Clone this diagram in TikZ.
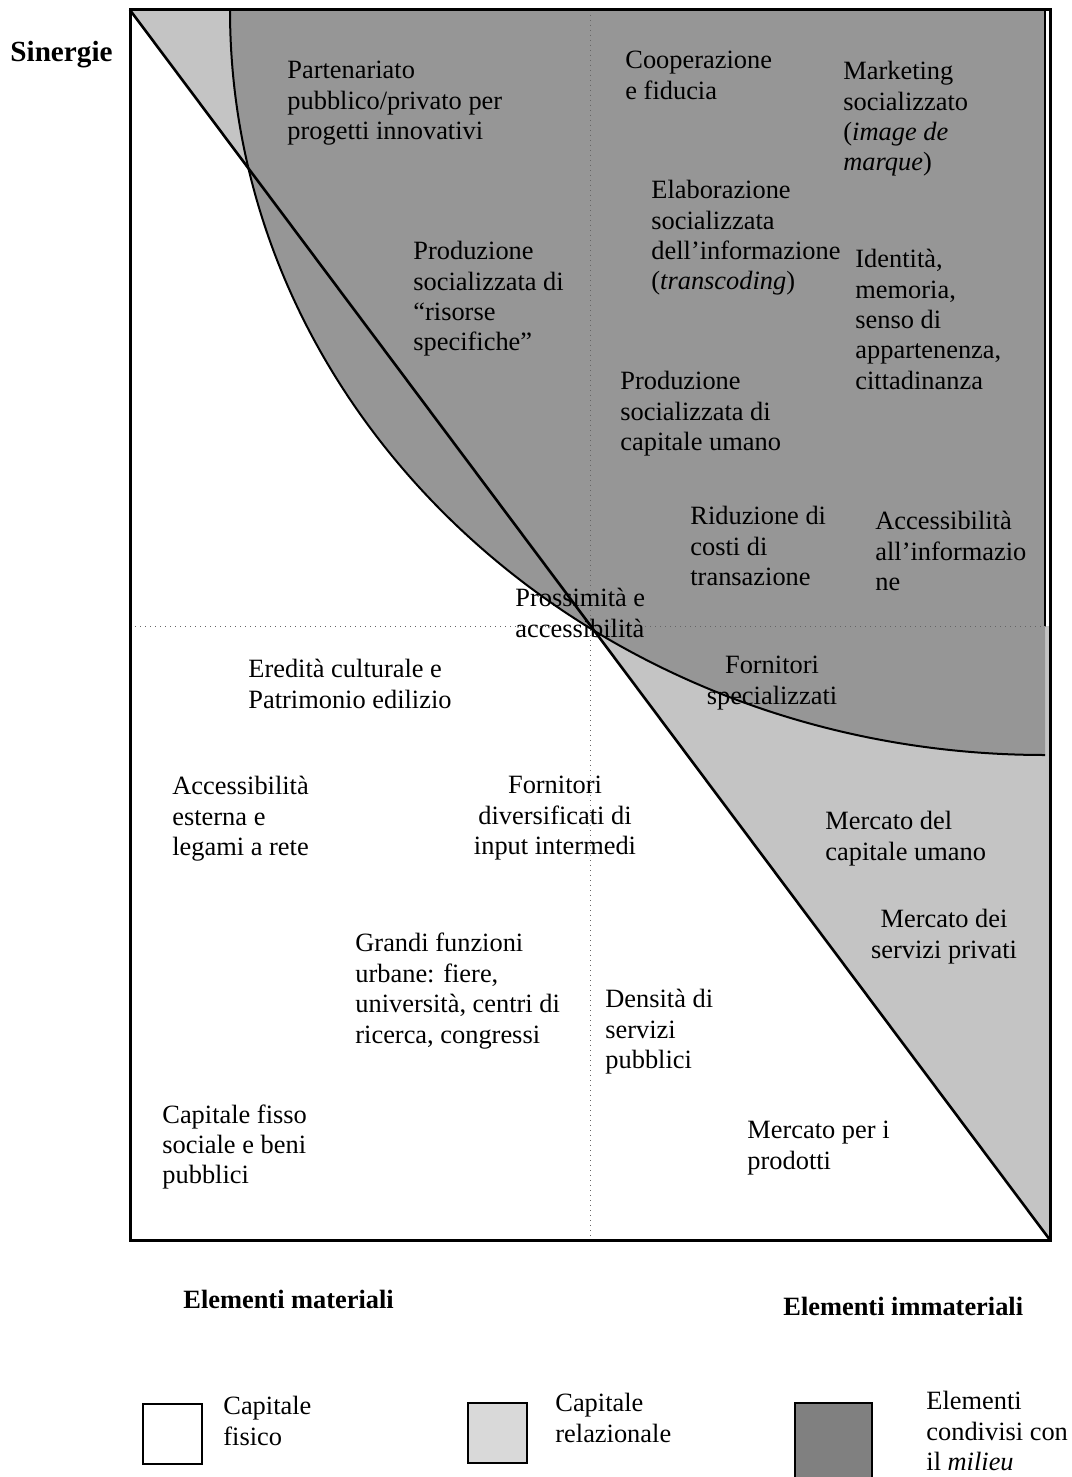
\documentclass[tikz,border=0pt]{standalone}
\usepackage{fontspec}
\setmainfont{Liberation Serif}
\newcommand\lblfont{\fontsize{13.2}{15.2}\selectfont}
\definecolor{relgray}{HTML}{C4C4C4}
\definecolor{milgray}{HTML}{969696}
\definecolor{legrel}{HTML}{D9D9D9}
\definecolor{legmil}{HTML}{808080}
\begin{document}
\begin{tikzpicture}[x=0.5pt,y=-0.5pt,
  lbl/.style={anchor=north west, inner sep=0pt, align=left, font=\lblfont,
    execute at begin node=\strut},
  lblc/.style={lbl, anchor=north, align=center},
  lblb/.style={lbl, font=\lblfont\bfseries},
  frameline/.style={line width=1.5pt},
  diagline/.style={line width=1.3pt},
  curveline/.style={line width=1pt},
  axisline/.style={dotted, line width=0.5pt, black!60},
  legbox/.style={line width=1pt}]
\useasboundingbox (0,0) rectangle (1071,1477);

% corner points of the frame
\coordinate (tl) at (130,10);
\coordinate (tr) at (1050,10);
\coordinate (br) at (1050,1240);
\coordinate (bl) at (130,1240);

% relational capital: triangle above the diagonal
\fill[relgray] (tl) -- (br) -- (tr) -- cycle;
% milieu: quarter ellipse around the top right corner
\fill[milgray] (230,10) .. controls (230,421.5) and (594.9,755) .. (1045,755)
  -- (1045,10) -- cycle;
\fill[white] (1045.5,10) rectangle (1050,626);
\draw[curveline] (230,10) .. controls (230,421.5) and (594.9,755) .. (1045,755);
\draw[line width=0.6pt] (1045,10) -- (1045,626);

% axes
\draw[axisline] (590,10) -- (590,1240);
\draw[axisline] (130,626) -- (1050,626);

% diagonal and frame
\draw[diagline] (tl) -- (br);
\draw[frameline] (tl) rectangle (br);

% labels inside the frame
\node[lbl] (partenariato) at (287,61) {Partenariato\\pubblico/privato per\\progetti innovativi};
\node[lbl] (cooperazione) at (625,51) {Cooperazione\\e fiducia};
\node[lbl] (marketing) at (843,61) {Marketing\\socializzato\\(\textit{image de}\\\textit{marque})};
\node[lbl] (elaborazione) at (651,180) {Elaborazione\\socializzata\\dell’informazione\\(\textit{transcoding})};
\node[lbl] (identita) at (855,249) {Identità,\\memoria,\\senso di\\appartenenza,\\cittadinanza};
\node[lbl] (risorse) at (413,241) {Produzione\\socializzata di\\“risorse\\specifiche”};
\node[lbl] (capumano) at (620,371) {Produzione\\socializzata di\\capitale umano};
\node[lbl] (riduzione) at (690,506) {Riduzione di\\costi di\\transazione};
\node[lbl] (accinfo) at (875,511) {Accessibilità\\all’informazio\\ne};
\node[lbl] (prossimita) at (515,588) {Prossimità e\\accessibilità};
\node[lbl] (eredita) at (248,659) {Eredità culturale e\\Patrimonio edilizio};
\node[lblc] (fornspec) at (772,656) {Fornitori\\specializzati};
\node[lbl] (accest) at (172,776) {Accessibilità\\esterna e\\legami a rete};
\node[lblc] (forndiv) at (555,776) {Fornitori\\diversificati di\\input intermedi};
\node[lbl] (mercum) at (825,811) {Mercato del\\capitale umano};
\node[lblc] (mercserv) at (944,909) {Mercato dei\\servizi privati};
\node[lbl] (grandi) at (355,933) {Grandi funzioni\\urbane: fiere,\\università, centri di\\ricerca, congressi};
\node[lbl] (densita) at (605,989) {Densità di\\servizi\\pubblici};
\node[lbl] (capfisso) at (162,1104) {Capitale fisso\\sociale e beni\\pubblici};
\node[lbl] (mercprod) at (747,1121) {Mercato per i\\prodotti};

% axis titles
\node[lblb, font=\fontsize{14.6}{16.8}\selectfont\bfseries] (sinergie) at (10,38) {Sinergie};
\node[lblb] (materiali) at (183,1287) {Elementi materiali};
\node[lblb] (immateriali) at (783,1294) {Elementi immateriali};

% legend
\draw[legbox, fill=white] (143,1404) rectangle (202,1464);
\node[lbl] (legfis) at (223,1396) {Capitale\\fisico};
\draw[legbox, fill=legrel] (468,1403) rectangle (527,1463);
\node[lbl] (legrelt) at (555,1393) {Capitale\\relazionale};
\draw[legbox, fill=legmil] (795,1403) rectangle (872,1478);
\node[lbl] (legmilt) at (926,1391) {Elementi\\condivisi con\\il \textit{milieu}};
\end{tikzpicture}
\end{document}
